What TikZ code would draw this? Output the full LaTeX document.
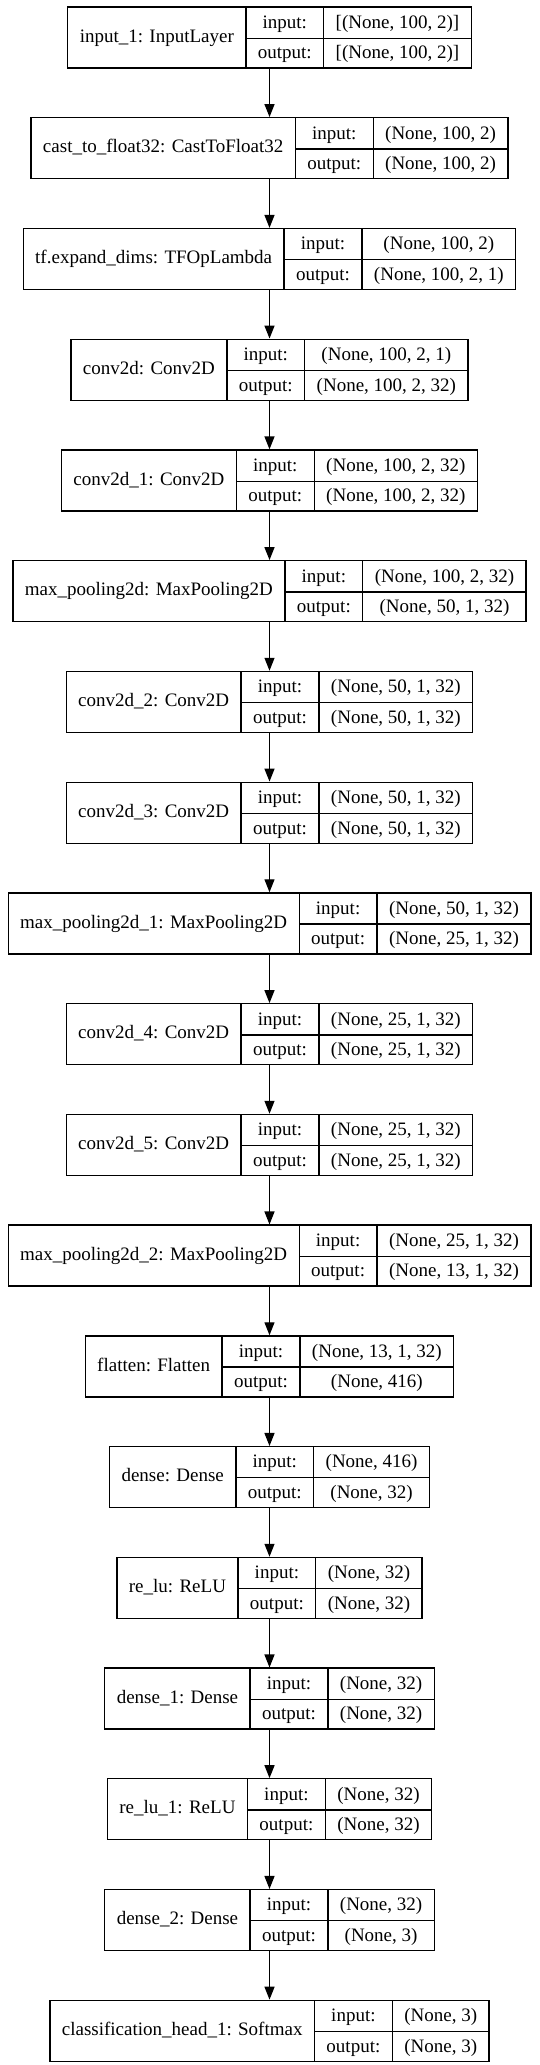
\documentclass[tikz,border=0pt]{standalone}
\usepackage{fontspec}
\setmainfont{Liberation Serif}
\usepackage{multirow}
\usetikzlibrary{arrows.meta}
\setlength{\tabcolsep}{12pt}
\setlength{\arrayrulewidth}{1.3pt}
\renewcommand{\arraystretch}{1.326}
\newcommand{\lay}[3]{\begin{tabular}{c|c|c}\multirow{2}{*}{#1} & input: & #2\\\cline{2-3} & output: & #3\end{tabular}}

\begin{document}
\begin{tikzpicture}[x=1pt,y=-1pt,
	layer/.style={draw,line width=1.3pt,inner sep=0pt,font=\fontsize{19}{23}\selectfont},
	arr/.style={-{Triangle[length=13pt,width=10pt]},line width=1.3pt}]
			\useasboundingbox (0,0) rectangle (539,2065);
			\node[layer] (ip) at (269.5,37.5) {\lay{input\_1: InputLayer}{[(None, 100, 2)]}{[(None, 100, 2)]}};
			\node[layer] (ca) at (269.5,148.2) {\lay{cast\_to\_float32: CastToFloat32}{(None, 100, 2)}{(None, 100, 2)}};
			\node[layer] (ex) at (269.5,259) {\lay{tf.expand\_dims: TFOpLambda}{(None, 100, 2)}{(None, 100, 2, 1)}};
			\node[layer] (c0) at (269.5,369.7) {\lay{conv2d: Conv2D}{(None, 100, 2, 1)}{(None, 100, 2, 32)}};
			\node[layer] (c1) at (269.5,480.5) {\lay{conv2d\_1: Conv2D}{(None, 100, 2, 32)}{(None, 100, 2, 32)}};
			\node[layer] (mp0) at (269.5,591.2) {\lay{max\_pooling2d: MaxPooling2D}{(None, 100, 2, 32)}{(None, 50, 1, 32)}};
			\node[layer] (c2) at (269.5,701.9) {\lay{conv2d\_2: Conv2D}{(None, 50, 1, 32)}{(None, 50, 1, 32)}};
			\node[layer] (c3) at (269.5,812.7) {\lay{conv2d\_3: Conv2D}{(None, 50, 1, 32)}{(None, 50, 1, 32)}};
			\node[layer] (mp1) at (269.5,923.4) {\lay{max\_pooling2d\_1: MaxPooling2D}{(None, 50, 1, 32)}{(None, 25, 1, 32)}};
			\node[layer] (c4) at (269.5,1034.2) {\lay{conv2d\_4: Conv2D}{(None, 25, 1, 32)}{(None, 25, 1, 32)}};
			\node[layer] (c5) at (269.5,1144.9) {\lay{conv2d\_5: Conv2D}{(None, 25, 1, 32)}{(None, 25, 1, 32)}};
			\node[layer] (mp2) at (269.5,1255.6) {\lay{max\_pooling2d\_2: MaxPooling2D}{(None, 25, 1, 32)}{(None, 13, 1, 32)}};
			\node[layer] (fl) at (269.5,1366.4) {\lay{flatten: Flatten}{(None, 13, 1, 32)}{(None, 416)}};
			\node[layer] (d0) at (269.5,1477.1) {\lay{dense: Dense}{(None, 416)}{(None, 32)}};
			\node[layer] (r0) at (269.5,1587.9) {\lay{re\_lu: ReLU}{(None, 32)}{(None, 32)}};
			\node[layer] (d1) at (269.5,1698.6) {\lay{dense\_1: Dense}{(None, 32)}{(None, 32)}};
			\node[layer] (r1) at (269.5,1809.3) {\lay{re\_lu\_1: ReLU}{(None, 32)}{(None, 32)}};
			\node[layer] (d2) at (269.5,1920.1) {\lay{dense\_2: Dense}{(None, 32)}{(None, 3)}};
			\node[layer] (sm) at (269.5,2030.8) {\lay{classification\_head\_1: Softmax}{(None, 3)}{(None, 3)}};
			\draw[arr](ip)--(ca); \draw[arr](ca)--(ex); \draw[arr](ex)--(c0);
			\draw[arr](c0)--(c1); \draw[arr](c1)--(mp0); \draw[arr](mp0)--(c2);
			\draw[arr](c2)--(c3); \draw[arr](c3)--(mp1); \draw[arr](mp1)--(c4);
			\draw[arr](c4)--(c5); \draw[arr](c5)--(mp2); \draw[arr](mp2)--(fl);
			\draw[arr](fl)--(d0); \draw[arr](d0)--(r0); \draw[arr](r0)--(d1);
			\draw[arr](d1)--(r1); \draw[arr](r1)--(d2); \draw[arr](d2)--(sm);
		\end{tikzpicture}
\end{document}
